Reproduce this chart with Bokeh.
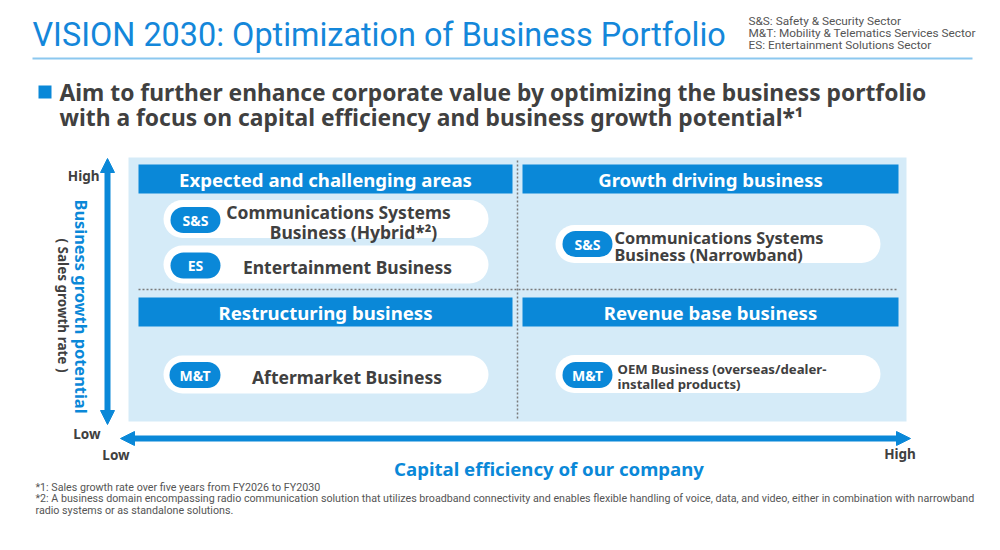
import numpy as np
from bokeh.plotting import figure
from bokeh.models import Range1d, Arrow, NormalHead, ColumnDataSource
from bokeh.core.properties import value
from bokeh.embed import file_html
from bokeh.resources import INLINE

# ---- texts / data ----
title_text = "VISION 2030: Optimization of Business Portfolio"
sector_notes = ["S&S: Safety & Security Sector",
                "M&T: Mobility & Telematics Services Sector",
                "ES: Entertainment Solutions Sector"]
headline = ["Aim to further enhance corporate value by optimizing the business portfolio",
            "with a focus on capital efficiency and business growth potential*\u00b9"]
quadrants = ["Expected and challenging areas", "Growth driving business",
             "Restructuring business", "Revenue base business"]
sectors = ["S&S", "ES", "S&S", "M&T", "M&T"]
businesses = [["Communications Systems", "Business (Hybrid*\u00b2)"],
              ["Entertainment Business"],
              ["Communications Systems", "Business (Narrowband)"],
              ["Aftermarket Business"],
              ["OEM Business (overseas/dealer-", "installed products)"]]
y_axis_label = ["Business growth potential", "( Sales growth rate )"]
x_axis_label = "Capital efficiency of our company"
level_labels = ["High", "Low"]
footnotes = ["*1: Sales growth rate over five years from FY2026 to FY2030",
             "*2: A business domain encompassing radio communication solution that utilizes broadband connectivity and enables flexible handling of voice, data, and video, either in combination with narrowband",
             "radio systems or as standalone solutions."]

# ---- layout (page pixels) ----
BLUE = "#0a88d8"
DARK = "#404040"
FONT = value("Noto Sans")
W, H = 990, 545

p = figure(width=W, height=H, x_range=Range1d(0, W), y_range=Range1d(H, 0),
           x_axis_location=None, y_axis_location=None, toolbar_location=None,
           output_backend="svg", min_border=0, outline_line_color=None)
p.grid.visible = False
p.background_fill_color = "white"

# title + sector notes
p.text(x=[32], y=[34], text=[title_text], text_font=value("Roboto"), text_font_size="32.4px",
       text_color="#1487da", text_baseline="middle")
p.text(x=[748] * 3, y=[20, 32, 44], text=sector_notes, text_font=value("Roboto"),
       text_font_size="11.8px", text_color="#555555", text_baseline="middle")
p.line(x=[32, 972], y=[58, 58], line_color="#8cc8ef", line_width=2)

# headline
p.quad(left=[38], right=[51], top=[85], bottom=[98], fill_color=BLUE, line_color=None)
p.text(x=[59, 59], y=[92, 117], text=headline, text_font=FONT, text_font_style="bold",
       text_font_size="22.8px", text_color=DARK, text_baseline="middle")

# panel
p.quad(left=[128], right=[906], top=[157], bottom=[421], fill_color="#d5ebf8", line_color=None)
p.segment(x0=[517], y0=[160], x1=[517], y1=[418], line_color="#7a7a7a", line_width=1.5, line_dash="2 2")
p.segment(x0=[138], y0=[289], x1=[898], y1=[289], line_color="#7a7a7a", line_width=1.5, line_dash="2 2")

# quadrant headers
hx0 = [138, 522, 138, 522]
hx1 = [512, 898, 512, 898]
hy0 = [164, 164, 297, 297]
hy1 = [193, 193, 326, 326]
hsrc = ColumnDataSource(dict(l=hx0, r=hx1, t=hy0, b=hy1, name=quadrants,
                             cx=[(a + b) / 2 for a, b in zip(hx0, hx1)],
                             cy=[(a + b) / 2 for a, b in zip(hy0, hy1)]))
p.quad(left="l", right="r", top="t", bottom="b", source=hsrc, fill_color=BLUE, line_color=None)
p.text(x="cx", y="cy", text="name", source=hsrc, text_font=FONT, text_font_style="bold",
       text_font_size="18.6px", text_color="white", text_align="center", text_baseline="middle")

# business pills (round-capped thick segments)
px0 = [163, 163, 555, 163, 555]
px1 = [488, 488, 880, 488, 880]
py = [218.5, 264, 243.5, 374, 373.5]
ph = 38
p.segment(x0=[a + ph / 2 for a in px0], x1=[b - ph / 2 for b in px1], y0=py, y1=py,
          line_color="white", line_width=ph, line_cap="round")

# sector tags
tx0 = [170, 170, 562, 169, 562]
tx1 = [220, 220, 612, 220, 612]
ty = [219.5, 265, 243.5, 374.5, 374.5]
th = 26
p.segment(x0=[a + th / 2 for a in tx0], x1=[b - th / 2 for b in tx1], y0=ty, y1=ty,
          line_color=BLUE, line_width=th, line_cap="round")
p.text(x=[(a + b) / 2 for a, b in zip(tx0, tx1)], y=ty, text=sectors, text_font=FONT,
       text_font_style="bold", text_font_size="14px", text_color="white",
       text_align="center", text_baseline="middle")

# business names
bx = [[338, 353], [347], [614, 614], [346.5], [617, 617]]
by = [[211, 231], [266], [237, 254], [376], [368, 383]]
balign = ["center", "center", "left", "center", "left"]
bsize = ["17.5px", "17.5px", "16.3px", "17.5px", "13.2px"]
for lines, xs, ys, al, sz in zip(businesses, bx, by, balign, bsize):
    p.text(x=xs, y=ys, text=lines, text_font=FONT, text_font_style="bold", text_font_size=sz,
           text_color=DARK, text_align=al, text_baseline="middle")

# axes arrows
for xs, ys, xe, ye in [(107, 424, 107, 158), (120, 438, 910, 438)]:
    p.add_layout(Arrow(x_start=xs, y_start=ys, x_end=xe, y_end=ye, line_color=BLUE, line_width=6,
                       start=NormalHead(size=14, fill_color=BLUE, line_color=BLUE),
                       end=NormalHead(size=14, fill_color=BLUE, line_color=BLUE)))

p.text(x=[81], y=[306], text=[y_axis_label[0]], angle=-np.pi / 2, text_font=FONT,
       text_font_style="bold", text_font_size="16.4px", text_color=BLUE,
       text_align="center", text_baseline="middle")
p.text(x=[62], y=[305], text=[y_axis_label[1]], angle=-np.pi / 2, text_font=FONT,
       text_font_style="bold", text_font_size="13.5px", text_color=DARK,
       text_align="center", text_baseline="middle")
p.text(x=[99, 100], y=[175, 433], text=level_labels, text_font=FONT, text_font_style="bold",
       text_font_size="13.5px", text_color=DARK, text_align="right", text_baseline="middle")
p.text(x=[115.5, 899.5], y=[454, 453], text=[level_labels[1], level_labels[0]], text_font=FONT,
       text_font_style="bold", text_font_size="13.5px", text_color=DARK, text_align="center",
       text_baseline="middle")
p.text(x=[548.5], y=[468], text=[x_axis_label], text_font=FONT, text_font_style="bold",
       text_font_size="18.6px", text_color=BLUE, text_align="center", text_baseline="middle")

# footnotes
p.text(x=[35] * 3, y=[487, 498, 510], text=footnotes, text_font=value("Roboto"),
       text_font_size="10.7px", text_color="#555555", text_baseline="middle")

open("out.html", "w").write(file_html(p, INLINE))
